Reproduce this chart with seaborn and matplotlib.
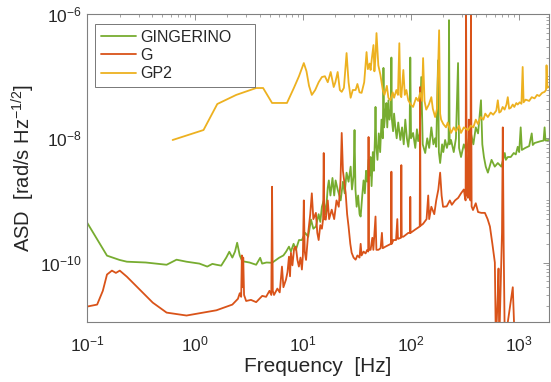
import numpy as np
import pandas as pd
import matplotlib
matplotlib.use("Agg")
import matplotlib.pyplot as plt
import matplotlib.ticker as mticker
import seaborn as sns

# ---------------- data ----------------
gp2_freq = [0.621, 1.20, 1.61, 2.41, 3.69, 4.28, 5.18, 6.01, 7.12, 8.26, 9.2, 10.2, 10.8,
            11.4, 12.1, 13, 14, 15.0, 16, 17, 18.1, 19.3, 20, 21.0, 22, 22.9, 24, 25.4,
            26.5, 27.7, 29, 30.8, 32, 33.5, 35, 37, 38.9, 40, 41.5, 42.4, 43.5, 45.1, 46,
            47, 48.1, 50, 52.3, 55, 57.0, 60, 62, 64.7, 68, 70, 73.5, 76, 78.3, 80, 81.7,
            85.3, 88, 91, 94.8, 100, 105, 112, 117, 122, 127, 130, 134, 139, 147, 155, 160,
            168, 175, 183, 187, 191, 200, 212, 220, 236, 250, 262, 280, 292, 310, 339, 360,
            380, 400, 419, 445, 470, 490, 518, 550, 580, 620, 640, 660, 682, 710, 740, 770,
            792, 815, 844, 880, 910, 950, 979, 1020, 1060, 1088, 1110, 1160, 1250, 1320,
            1403, 1480, 1550, 1650, 1737, 1790, 1811, 1840, 1890]
gp2_asd = [9.4e-9, 1.36e-8, 3.57e-8, 5.0e-8, 6.46e-8, 6.46e-8, 3.71e-8, 3.71e-8, 3.71e-8,
           6.5e-8, 1.0e-7, 1.63e-7, 1.2e-7, 7e-8, 5e-8, 6e-8, 8e-8, 9.7e-8, 1.0e-7, 8e-8,
           1.17e-7, 6.7e-8, 8e-8, 1.17e-7, 6e-8, 5.6e-8, 6.5e-8, 2.36e-7, 8e-8, 4.5e-8, 6e-8,
           6e-8, 7.5e-8, 5.5e-8, 5.4e-8, 8e-8, 2.45e-7, 1.3e-7, 1.6e-7, 1.26e-7, 1.9e-7,
           3.18e-7, 1.2e-7, 2e-7, 4.95e-7, 1.5e-7, 1.05e-7, 6e-8, 5.0e-8, 7e-8, 4.5e-8,
           4.1e-8, 5.5e-8, 4.5e-8, 6e-8, 5e-8, 3.4e-7, 5e-8, 4.6e-8, 1.26e-7, 5e-8, 6e-8,
           4.1e-8, 3.5e-8, 3.2e-8, 4.5e-8, 4e-8, 5.4e-8, 4e-8, 1.96e-7, 4e-8, 2.9e-8, 3.5e-8,
           4.6e-8, 3e-8, 2.2e-8, 3e-8, 5.5e-7, 2.5e-8, 2e-8, 1.7e-8, 1.5e-8, 1.8e-8, 1.22e-8,
           1.5e-8, 1.3e-8, 1.6e-8, 1.22e-8, 1.5e-8, 1.36e-8, 1.6e-8, 1.5e-8, 2e-8, 1.7e-8,
           2.2e-8, 2e-8, 2.5e-8, 2.2e-8, 2.6e-8, 2.4e-8, 2.8e-8, 4.1e-8, 2.6e-8, 2.7e-8,
           3.2e-8, 2.9e-8, 3.5e-8, 4.6e-8, 3e-8, 3.1e-8, 3.5e-8, 3.2e-8, 3.7e-8, 3.5e-8,
           3.8e-8, 3.6e-8, 1.41e-7, 3.8e-8, 4.2e-8, 4.0e-8, 4.6e-8, 4.4e-8, 5e-8, 4.8e-8,
           5.4e-8, 5.6e-8, 6e-8, 1.5e-7, 6.5e-8, 6.8e-8]

ging_freq = [0.1, 0.12, 0.153, 0.2, 0.234, 0.35, 0.546, 0.675, 0.835, 1.1, 1.3, 1.45, 1.58,
             1.75, 1.95, 2.08, 2.22, 2.35, 2.46, 2.6, 2.74, 3.2, 3.69, 4.02, 4.19, 4.6, 5.18,
             6.01, 6.6, 7.0, 7.43, 7.75, 8.2, 8.61, 9.2, 9.79, 10.5, 11.2, 11.9, 12.5, 13.2,
             14, 14.5, 15.0, 15.6, 16.3, 17.0, 17.4, 18, 18.8, 19.5, 20.1, 21, 22.4, 23.5,
             24.4, 25.4, 26.5, 27.7, 28.5, 29.5, 30.1, 30.7, 31.5, 32.5, 33.5, 34.3, 35.5,
             36.5, 37.5, 38.5, 39.5, 40.6, 41.5, 42.4, 43.3, 44.5, 45.5, 46.5, 47.1, 47.8,
             49.1, 50.5, 52, 53.5, 55, 55.8, 56.6, 58, 59.4, 60.5, 62.1, 63.5, 65.5, 66.1,
             66.8, 68.5, 70, 71.9, 74, 76.5, 80, 83, 86, 88.9, 92, 94.8, 97.5, 98.9, 100.5,
             105, 110, 114, 117, 121, 125, 129, 136, 142, 148, 155, 162, 168, 172, 179, 182,
             187, 195, 200, 208, 216, 224, 226, 229, 236, 250, 262, 274, 280, 292, 310, 330,
             345, 361, 380, 400, 420, 447, 460, 476, 495, 518, 560, 600, 640, 690, 743, 760,
             792, 844, 900, 940, 979, 1010, 1043, 1070, 1150, 1250, 1320, 1350, 1403, 1500,
             1600, 1700, 1737, 1770, 1890]
ging_asd = [4.4e-10, 2.6e-10, 1.29e-10, 1.1e-10, 1.03e-10, 1.0e-10, 9.2e-11, 1.11e-10,
            1.03e-10, 9.6e-11, 8.6e-11, 9.5e-11, 9.2e-11, 8.9e-11, 1.2e-10, 1.49e-10, 1.2e-10,
            1.5e-10, 2.08e-10, 1.3e-10, 1.05e-10, 1.0e-10, 9.2e-11, 1.19e-10, 9.6e-11, 1.0e-10,
            9.9e-11, 1.19e-10, 1.3e-10, 1.5e-10, 1.8e-10, 1.5e-10, 2e-10, 1.6e-10, 2.3e-10,
            2.3e-10, 3e-10, 2.6e-10, 4.9e-10, 3.5e-10, 3.8e-10, 6e-10, 4.5e-10, 7.9e-10,
            1.0e-9, 6e-10, 1.6e-9, 2.1e-9, 1.2e-9, 2.3e-9, 1.2e-9, 2.1e-9, 1.5e-9, 1.0e-9,
            2e-9, 1.3e-9, 2.8e-9, 2e-9, 3.5e-9, 1.5e-9, 2.5e-9, 1.36e-8, 1.5e-9, 7.9e-10,
            1.2e-9, 6e-10, 5.5e-10, 1.2e-9, 2.1e-9, 1.3e-9, 3e-9, 2e-9, 4.5e-9, 2.5e-9, 5e-9,
            1.7e-9, 6e-9, 3e-9, 1e-8, 3.2e-8, 8e-9, 4.5e-9, 1.2e-8, 6e-9, 2e-8, 1e-8,
            1.36e-7, 1.5e-8, 2.5e-8, 3.7e-8, 1.5e-8, 4.1e-8, 2e-8, 3e-8, 2.0e-7, 2e-8, 1.3e-8,
            2.5e-8, 1.5e-8, 1e-8, 1.8e-8, 9.4e-9, 1.5e-8, 8e-9, 2e-8, 1e-8, 7.3e-9, 1.2e-8,
            2.0e-7, 1e-8, 1.22e-8, 7e-9, 1.4e-8, 9e-9, 1.2e-8, 9.7e-8, 8e-9, 5.8e-9, 1e-8,
            7e-9, 1.5e-8, 8e-9, 1e-8, 7.3e-9, 1.8e-7, 6e-9, 4e-9, 8e-9, 6e-9, 9.4e-9, 7e-9,
            9e-9, 8.0e-7, 8e-9, 9.4e-9, 6e-9, 1e-8, 1.63e-7, 7e-9, 5e-9, 8e-9, 6e-9, 1e-8,
            1.2e-8, 8e-9, 1.5e-8, 1.2e-8, 4.1e-8, 8e-9, 5e-9, 3.5e-9, 2.8e-9, 4.5e-9, 3.5e-9,
            4e-9, 3.5e-9, 5.8e-9, 4.5e-9, 5e-9, 5e-9, 5.8e-9, 5.5e-9, 7.3e-9, 6e-9, 1.5e-8,
            6.5e-9, 7e-9, 7.5e-9, 1.2e-8, 7.8e-9, 8.4e-9, 8.7e-9, 9e-9, 9.2e-9, 1.5e-8,
            9.2e-9, 9.4e-9]

g_freq = [0.1, 0.124, 0.14, 0.153, 0.17, 0.185, 0.201, 0.234, 0.308, 0.406, 0.546, 0.835,
          1.1, 1.58, 2.22, 2.5, 2.6, 2.68, 2.72, 2.76, 2.8, 2.85, 2.98, 3.3, 3.69, 4.2, 4.56,
          4.9, 5.1, 5.18, 5.26, 5.4, 5.8, 6.1, 6.4, 6.6, 6.97, 7.2, 7.43, 7.6, 7.75, 8.0,
          8.3, 8.61, 8.9, 9.18, 9.5, 9.79, 10.0, 10.2, 10.4, 10.7, 11.2, 11.7, 12.1, 12.5,
          13.2, 13.6, 14.0, 14.5, 15.0, 15.4, 15.6, 15.8, 16.3, 17.0, 17.5, 18.5, 19.5,
          20.5, 21.5, 22.3, 22.9, 23.5, 24.9, 25.7, 26.5, 27.5, 28.3, 29.5, 30.8, 32, 33.5,
          34.3, 35.0, 36.5, 38.1, 39.5, 40.3, 40.6, 40.9, 42.4, 44, 45, 47.1, 48, 50.1,
          52.5, 54, 55, 58.2, 62, 65.5, 66.1, 66.7, 69, 73, 75, 76, 81, 81.7, 82.4, 85.3,
          90, 94.8, 98.5, 98.9, 99.5, 110, 121, 122, 123, 130, 140, 145, 148, 155, 165, 172,
          180, 187, 193, 199, 215, 230, 240, 257, 275, 292, 310, 318, 322, 325, 330, 336,
          339, 345, 350, 357, 361, 366, 377, 400, 420, 450, 486, 515, 541, 570, 601, 614,
          640, 650, 660, 682, 700, 712, 725, 743, 881, 919]
g_asd = [1.95e-11, 2.1e-11, 3.5e-11, 6.4e-11, 7.4e-11, 6.8e-11, 7.4e-11, 5.9e-11, 3.65e-11,
         2.26e-11, 1.56e-11, 1.4e-11, 1.52e-11, 1.7e-11, 2.1e-11, 2.6e-11, 3.2e-11, 2.8e-11,
         1.3e-10, 4e-11, 1.2e-10, 3e-11, 2.4e-11, 2.5e-11, 2.3e-11, 2.9e-11, 2.8e-11,
         3.5e-11, 3e-11, 1.66e-9, 3.5e-11, 3e-11, 3.8e-11, 3.3e-11, 8.6e-11, 4e-11, 5.3e-11,
         7e-11, 1.24e-10, 6e-11, 1.44e-10, 9e-11, 1.7e-10, 1.8e-10, 1.1e-10, 8.6e-11,
         1.2e-10, 7.7e-11, 1.3e-10, 1.0e-9, 1.5e-10, 1.1e-10, 3e-10, 6e-10, 1.3e-9, 5e-10,
         6.3e-10, 3e-10, 2.3e-10, 4e-10, 3.5e-10, 5e-10, 5.8e-9, 5e-10, 4.9e-10, 1e-9,
         5e-10, 7.1e-10, 5e-10, 1e-9, 7.9e-10, 2e-9, 1.22e-8, 3e-9, 1.33e-9, 6e-10, 3.8e-10,
         2e-10, 1.44e-10, 1.2e-10, 1.11e-10, 1.3e-10, 1.2e-10, 2e-10, 1.3e-10, 1.5e-10,
         1.4e-10, 1.6e-10, 1.5e-10, 1.05e-8, 1.6e-10, 1.6e-10, 2.5e-10, 1.6e-10, 5.5e-10,
         1.6e-10, 1.6e-10, 1.7e-10, 3e-10, 1.7e-10, 1.8e-10, 1.9e-10, 2e-10, 2.9e-9, 2e-10,
         2.3e-10, 2.3e-10, 5e-10, 2.4e-10, 2.5e-10, 3.7e-9, 2.6e-10, 2.6e-10, 2.8e-10,
         3e-10, 3e-10, 1.14e-9, 3e-10, 3.4e-10, 3.8e-10, 6.7e-8, 3.9e-10, 4.2e-10, 5e-10,
         1.2e-9, 5e-10, 7.9e-10, 6e-10, 1e-9, 1.5e-9, 2.8e-9, 1.2e-9, 7.9e-10, 8e-10, 1e-9,
         8.5e-10, 1e-9, 1.1e-9, 1.3e-9, 1.5e-9, 1.1e-9, 1e-9, 1.5e-6, 1.2e-9, 3e-9, 1.1e-9,
         2e-8, 1.5e-9, 1e-9, 1.5e-6, 8e-10, 7e-10, 9e-10, 6.5e-10, 6.3e-10, 6.3e-10, 5e-10,
         3.8e-10, 2e-10, 1e-10, 5e-12, 3e-11, 8e-11, 5e-12, 4.7e-11, 3e-10, 1.5e-8, 2e-10,
         5e-12, 4e-11, 5e-12]

series_names = ["GINGERINO", "G", "GP2"]
series_colors = ["#77AC30", "#D95319", "#EDB120"]

# ---------------- figure ----------------
sns.set_theme(style="white")
plt.rcParams['font.family'] = ['Liberation Sans', 'DejaVu Sans']
plt.rcParams['mathtext.fontset'] = 'custom'
plt.rcParams['mathtext.rm'] = 'Liberation Sans'
plt.rcParams['mathtext.it'] = 'Liberation Sans:italic'

fig = plt.figure(figsize=(5.51, 3.82), dpi=100)
ax = fig.add_axes([0.158, 0.157, 0.838, 0.806])

frames = [
    pd.DataFrame({"f": ging_freq, "asd": ging_asd}),
    pd.DataFrame({"f": g_freq, "asd": g_asd}),
    pd.DataFrame({"f": gp2_freq, "asd": gp2_asd}),
]
for df, name, col in zip(frames, series_names, series_colors):
    sns.lineplot(data=df, x="f", y="asd", ax=ax, color=col, linewidth=1.3,
                 sort=False, estimator=None, label=name)

ax.set_xscale("log")
ax.set_yscale("log")
ax.set_xlim(0.1, 1900)
ax.set_ylim(1.1e-11, 1e-6)

ax.xaxis.set_major_locator(mticker.FixedLocator([0.1, 1, 10, 100, 1000]))
ax.xaxis.set_major_formatter(mticker.FixedFormatter(
    [r"$10^{-1}$", r"$10^{0}$", r"$10^{1}$", r"$10^{2}$", r"$10^{3}$"]))
ax.xaxis.set_minor_locator(mticker.LogLocator(base=10, subs=np.arange(2, 10), numticks=20))
ax.xaxis.set_minor_formatter(mticker.NullFormatter())

ax.yaxis.set_major_locator(mticker.FixedLocator([1e-10, 1e-8, 1e-6]))
ax.yaxis.set_major_formatter(mticker.FixedFormatter(
    [r"$10^{-10}$", r"$10^{-8}$", r"$10^{-6}$"]))
ax.yaxis.set_minor_locator(mticker.LogLocator(base=10, subs=np.arange(1, 10), numticks=20))
ax.yaxis.set_minor_formatter(mticker.NullFormatter())

ax.tick_params(which="both", direction="in", top=True, right=True, colors="#262626",
               labelsize=12.5)
ax.tick_params(which="major", length=4, width=0.6, color="#808080")
ax.tick_params(which="minor", length=2.2, width=0.5, color="#808080")
ax.tick_params(axis="x", which="major", pad=9)
ax.tick_params(axis="y", which="major", pad=4)
for s in ax.spines.values():
    s.set_color("#808080")
    s.set_linewidth(0.8)

ax.set_xlabel("Frequency  [Hz]", fontsize=15, color="#262626", labelpad=2)
ax.set_ylabel(r"ASD  [rad/s Hz$^{-1/2}$]", fontsize=14.5, color="#262626", labelpad=2)

leg = ax.legend(loc="upper left", bbox_to_anchor=(0.0175, 0.0, 0.346, 0.967),
                mode="expand", borderaxespad=0.0, fontsize=11.5,
                frameon=True, fancybox=False, edgecolor="#555555",
                handlelength=2.2, handletextpad=0.25, borderpad=0.35, labelspacing=0.2)
leg.get_frame().set_linewidth(0.7)

fig.savefig("out.png", dpi=100)
